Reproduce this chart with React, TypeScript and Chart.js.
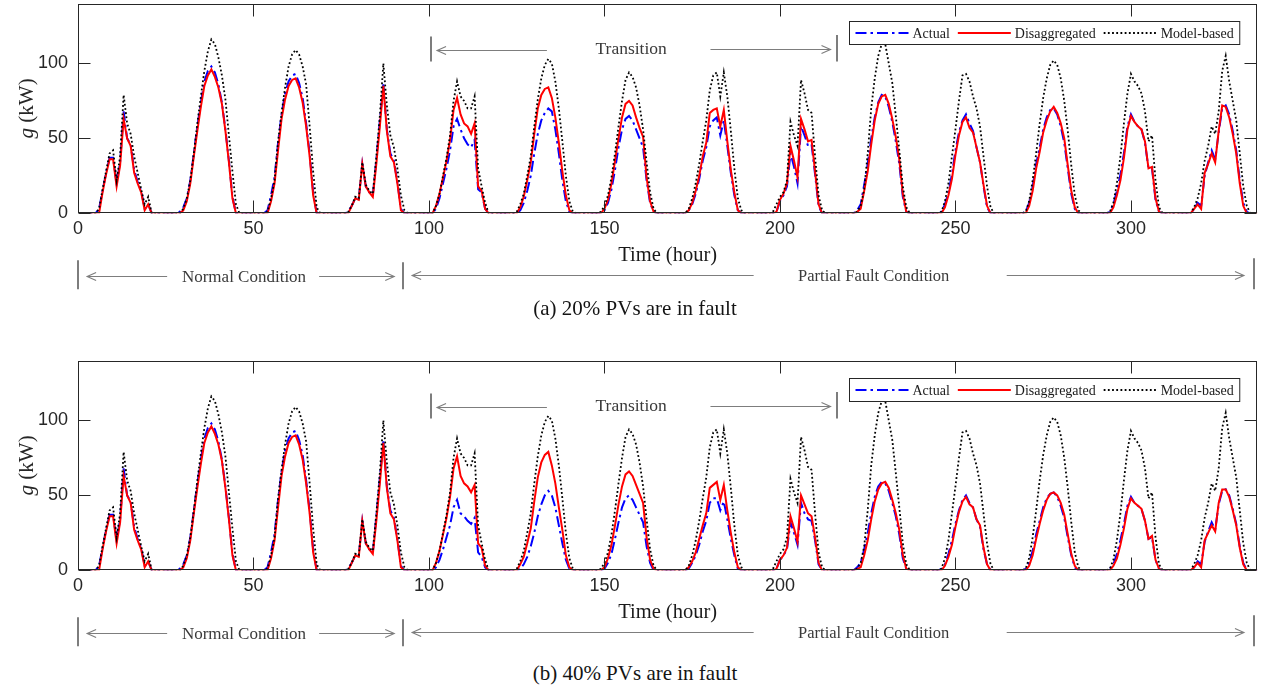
import React, { useEffect, useRef } from "react";
import { Chart, registerables } from "chart.js";

Chart.register(...registerables);

// ---------------- data ----------------
const hourTotal = 336;
const xTickValues = [0, 50, 100, 150, 200, 250, 300];
const yTickValues = [0, 50, 100];
// first hour of each day's sunlit window; each day's list starts at that hour
const dayWindowStart = [5, 28, 53, 76, 100, 124, 148, 172, 197, 220, 245, 269, 293, 316];

const modelBased: number[][] = [
  [0, 3, 16, 28, 40, 42, 22, 38, 79, 60, 53, 38, 27, 16, 6, 11, 0],
  [0, 0, 3, 10, 22, 40, 60, 78, 95, 108, 116, 113, 104, 92, 76, 52, 28, 6, 0],
  [0, 1, 10, 22, 48, 67, 84, 98, 106, 109, 106, 98, 86, 58, 28, 4, 0, 0],
  [0, 1, 5, 11, 10, 34, 19, 15, 13, 38, 65, 100, 72, 52, 44, 30, 12, 2, 0],
  [0, 0, 5, 13, 25, 37, 52, 75, 88, 78, 75, 70, 70, 78, 30, 18, 7, 0, 0],
  [0, 1, 6, 13, 25, 38, 58, 76, 90, 99, 103, 100, 88, 70, 48, 25, 8, 1, 0],
  [0, 1, 5, 12, 24, 40, 58, 75, 89, 94, 91, 84, 72, 56, 34, 14, 3, 0, 0],
  [0, 0, 3, 10, 20, 33, 48, 62, 82, 92, 94, 78, 94, 78, 55, 30, 10, 2, 0],
  [0, 1, 6, 11, 14, 22, 61, 52, 45, 89, 80, 69, 67, 38, 12, 2, 0, 0],
  [0, 0, 1, 5, 16, 40, 70, 90, 105, 113, 113, 100, 87, 65, 42, 18, 4, 0, 0],
  [0, 1, 8, 20, 38, 56, 75, 92, 93, 88, 78, 70, 58, 38, 18, 4, 0],
  [0, 1, 8, 22, 40, 60, 77, 90, 99, 102, 99, 90, 75, 55, 32, 12, 2, 0],
  [0, 1, 7, 20, 38, 60, 80, 93, 88, 85, 80, 68, 48, 52, 22, 4, 0, 0],
  [0, 0, 4, 10, 20, 35, 45, 58, 53, 68, 95, 105, 88, 75, 62, 40, 18, 5, 0, 0, 0],
];

const actual20: number[][] = [
  [0, 3, 15, 27, 37, 37, 20, 34, 68, 50, 46, 29, 21, 15, 3, 6, 0],
  [0, 1, 4, 10, 22, 40, 58, 74, 88, 95, 98, 94, 86, 74, 56, 35, 11, 0, 0],
  [0, 2, 12, 24, 47, 66, 80, 88, 92, 93, 87, 77, 60, 40, 14, 0, 0, 0],
  [0, 1, 5, 10, 10, 33, 18, 14, 12, 36, 62, 86, 56, 40, 35, 21, 3, 0, 0],
  [0, 0, 3, 10, 20, 30, 42, 58, 63, 56, 50, 46, 44, 49, 16, 14, 3, 0, 0],
  [0, 0, 2, 7, 15, 25, 40, 53, 62, 67, 70, 68, 56, 40, 22, 8, 1, 0, 0],
  [0, 0, 2, 7, 16, 29, 44, 56, 63, 65, 62, 56, 50, 44, 22, 7, 1, 0, 0],
  [0, 0, 2, 6, 13, 23, 35, 44, 58, 62, 64, 52, 62, 45, 27, 12, 2, 0, 0],
  [0, 0, 1, 8, 12, 18, 40, 31, 20, 58, 52, 45, 46, 26, 5, 0, 0, 0],
  [0, 0, 2, 6, 19, 33, 50, 64, 74, 79, 78, 71, 61, 48, 33, 11, 1, 0, 0],
  [0, 1, 6, 14, 26, 42, 54, 62, 66, 60, 55, 44, 34, 18, 4, 0, 0],
  [0, 1, 7, 18, 33, 44, 56, 64, 69, 70, 66, 58, 47, 30, 13, 3, 0, 0],
  [0, 1, 6, 15, 26, 40, 58, 66, 61, 58, 56, 47, 30, 30, 9, 1, 0, 0],
  [0, 0, 3, 7, 5, 25, 34, 42, 36, 54, 70, 72, 66, 55, 42, 22, 7, 1, 0, 0, 0],
];

const disaggregated20: number[][] = [
  [0, 0, 14, 26, 36, 36, 18, 32, 63, 50, 45, 27, 20, 14, 2, 6, 0],
  [0, 0, 2, 8, 20, 38, 55, 71, 85, 92, 96, 91, 84, 73, 55, 34, 10, 0, 0],
  [0, 0, 8, 20, 42, 63, 76, 85, 89, 90, 84, 74, 58, 38, 12, 0, 0, 0],
  [0, 0, 5, 10, 9, 33, 18, 14, 11, 33, 58, 85, 55, 38, 34, 20, 2, 0, 0],
  [0, 0, 5, 13, 24, 35, 49, 69, 77, 66, 60, 58, 53, 60, 18, 15, 3, 0, 0],
  [0, 0, 4, 11, 22, 34, 53, 70, 79, 83, 84, 77, 64, 47, 28, 12, 2, 0, 0],
  [0, 0, 3, 9, 20, 35, 50, 64, 73, 75, 72, 64, 57, 51, 24, 8, 1, 0, 0],
  [0, 0, 2, 7, 15, 25, 38, 47, 67, 69, 70, 58, 69, 48, 29, 14, 2, 0, 0],
  [0, 0, 1, 9, 13, 20, 45, 35, 24, 63, 56, 48, 49, 28, 6, 0, 0, 0],
  [0, 0, 1, 3, 15, 28, 46, 62, 73, 78, 79, 73, 63, 51, 36, 13, 1, 0, 0],
  [0, 0, 4, 12, 23, 39, 52, 61, 64, 57, 54, 44, 34, 19, 5, 0, 0],
  [0, 0, 5, 15, 30, 41, 54, 62, 68, 71, 67, 60, 50, 32, 15, 4, 0, 0],
  [0, 0, 4, 12, 22, 37, 56, 65, 61, 58, 56, 48, 30, 31, 10, 1, 0, 0],
  [0, 0, 3, 6, 3, 27, 33, 40, 34, 55, 72, 71, 64, 53, 40, 20, 5, 0, 0, 0, 0],
];

const actual40: number[][] = [
  [0, 3, 15, 27, 37, 37, 20, 34, 68, 50, 46, 29, 21, 15, 3, 6, 0],
  [0, 1, 4, 10, 22, 40, 58, 74, 88, 95, 98, 94, 86, 74, 56, 35, 11, 0, 0],
  [0, 2, 12, 24, 47, 66, 80, 88, 92, 93, 87, 77, 60, 40, 14, 0, 0, 0],
  [0, 1, 5, 10, 10, 33, 18, 14, 12, 36, 62, 86, 56, 40, 35, 21, 3, 0, 0],
  [0, 0, 2, 7, 14, 22, 30, 42, 47, 38, 36, 33, 31, 35, 12, 9, 2, 0, 0],
  [0, 0, 1, 4, 9, 16, 25, 36, 44, 50, 53, 50, 42, 30, 18, 7, 1, 0, 0],
  [0, 0, 1, 5, 11, 21, 32, 42, 48, 50, 47, 42, 37, 32, 16, 5, 0, 0, 0],
  [0, 0, 1, 5, 10, 17, 26, 33, 45, 48, 48, 40, 46, 34, 21, 10, 1, 0, 0],
  [0, 0, 1, 7, 10, 14, 32, 25, 17, 45, 38, 34, 33, 20, 4, 0, 0, 0],
  [0, 0, 2, 5, 14, 25, 38, 49, 56, 59, 58, 53, 45, 36, 24, 8, 1, 0, 0],
  [0, 1, 4, 11, 20, 31, 40, 47, 50, 45, 42, 34, 29, 14, 4, 0, 0],
  [0, 1, 5, 13, 24, 33, 42, 48, 51, 52, 49, 43, 35, 22, 10, 2, 0, 0],
  [0, 1, 4, 11, 20, 31, 43, 49, 45, 43, 41, 33, 21, 22, 7, 1, 0, 0],
  [0, 0, 2, 6, 4, 19, 26, 32, 27, 44, 53, 54, 50, 41, 31, 16, 5, 0, 0, 0, 0],
];

const disaggregated40: number[][] = [
  [0, 0, 14, 26, 36, 36, 18, 32, 63, 50, 45, 27, 20, 14, 2, 6, 0],
  [0, 0, 2, 8, 20, 38, 55, 71, 85, 92, 96, 91, 84, 73, 55, 34, 10, 0, 0],
  [0, 0, 8, 20, 42, 63, 76, 85, 89, 90, 84, 74, 58, 38, 12, 0, 0, 0],
  [0, 0, 5, 10, 9, 33, 18, 14, 11, 33, 58, 85, 55, 38, 34, 20, 2, 0, 0],
  [0, 0, 5, 13, 24, 35, 49, 68, 76, 63, 58, 56, 52, 57, 18, 15, 3, 0, 0],
  [0, 0, 4, 9, 18, 28, 46, 62, 72, 77, 79, 70, 58, 42, 27, 10, 2, 0, 0],
  [0, 0, 2, 8, 17, 30, 44, 56, 64, 66, 63, 57, 51, 45, 22, 7, 1, 0, 0],
  [0, 0, 2, 6, 12, 21, 30, 38, 55, 57, 59, 47, 57, 40, 25, 12, 2, 0, 0],
  [0, 0, 1, 7, 10, 15, 36, 28, 19, 50, 44, 38, 36, 22, 5, 0, 0, 0],
  [0, 0, 1, 2, 10, 20, 34, 46, 54, 58, 59, 55, 47, 38, 27, 10, 1, 0, 0],
  [0, 0, 3, 9, 17, 29, 39, 46, 49, 44, 42, 34, 30, 15, 4, 0, 0],
  [0, 0, 3, 10, 21, 31, 40, 47, 51, 52, 50, 45, 37, 24, 11, 3, 0, 0],
  [0, 0, 3, 8, 17, 28, 41, 48, 45, 43, 41, 33, 21, 23, 7, 1, 0, 0],
  [0, 0, 2, 5, 2, 20, 25, 30, 26, 45, 54, 54, 49, 40, 30, 15, 4, 0, 0, 0, 0],
];

const seriesLabels = ["Actual", "Disaggregated", "Model-based"];
const captions = ["(a) 20% PVs are in fault", "(b) 40% PVs are in fault"];
const xTitle = "Time (hour)";
const conditionLabels = { transition: "Transition", normal: "Normal Condition", partial: "Partial Fault Condition" };

// annotation anchors, in hours
const transitionMarks = { start: 100.6, end: 216.3, leftHead: 102.3, leftTail: 133.6, text: 157.6, rightTail: 180.2, rightHead: 214.4 };
const conditionMarks = {
  normalStart: 0, normalEnd: 92.7, nLeftHead: 2.6, nLeftTail: 25.4, nText: 47.3, nRightTail: 68.7, nRightHead: 90.1,
  pLeftHead: 95.2, pLeftTail: 192.5, pText: 226.7, pRightTail: 264.6, pRightHead: 332.2, faultEnd: 335.2,
};

// ---------------- styles ----------------
const SERIF = '"Liberation Serif", "Times New Roman", serif';
const SANS = '"Liberation Sans", Arial, Helvetica, sans-serif';
const AXIS = "#262626";
const NOTE = "#7d7d7d";
const NOTE_TEXT = "#3a3a3a";

function toPoints(days: number[][]) {
  const pts: { x: number; y: number }[] = [];
  for (let h = 1; h <= hourTotal; h++) {
    let y = 0;
    days.forEach((vals, d) => {
      const i = h - dayWindowStart[d];
      if (i >= 0 && i < vals.length) y = vals[i];
    });
    pts.push({ x: h, y });
  }
  return pts;
}

function arrow(ctx: CanvasRenderingContext2D, tail: number, head: number, y: number) {
  const dir = Math.sign(head - tail);
  ctx.beginPath();
  ctx.moveTo(tail, y);
  ctx.lineTo(head, y);
  ctx.moveTo(head - dir * 9, y - 4);
  ctx.lineTo(head, y);
  ctx.lineTo(head - dir * 9, y + 4);
  ctx.stroke();
}

function bar(ctx: CanvasRenderingContext2D, x: number, y1: number, y2: number) {
  ctx.beginPath();
  ctx.moveTo(x, y1);
  ctx.lineTo(x, y2);
  ctx.stroke();
}

const decorPlugin = {
  id: "matlabDecor",
  afterDraw(chart: any) {
    const ctx: CanvasRenderingContext2D = chart.ctx;
    const ca = chart.chartArea;
    const xs = chart.scales.x;
    const ys = chart.scales.y;
    const L = Math.round(ca.left) + 0.5;
    const R = Math.round(ca.right) - 0.5;
    const T = Math.round(ca.top) + 0.5;
    const B = Math.round(ca.bottom) - 0.5;
    ctx.save();
    // frame + inward ticks
    ctx.strokeStyle = AXIS;
    ctx.lineWidth = 1;
    ctx.setLineDash([]);
    ctx.strokeRect(L, T, R - L, B - T);
    ctx.beginPath();
    xTickValues.forEach((v) => {
      const px = Math.round(xs.getPixelForValue(v)) + 0.5;
      ctx.moveTo(px, B); ctx.lineTo(px, B - 12);
      ctx.moveTo(px, T); ctx.lineTo(px, T + 12);
    });
    yTickValues.forEach((v) => {
      const py = Math.round(ys.getPixelForValue(v)) + 0.5;
      ctx.moveTo(L, py); ctx.lineTo(L + 12, py);
      ctx.moveTo(R, py); ctx.lineTo(R - 12, py);
    });
    ctx.stroke();

    // y title: italic g + (kW)
    ctx.fillStyle = AXIS;
    ctx.save();
    ctx.translate(27, (ca.top + ca.bottom) / 2);
    ctx.rotate(-Math.PI / 2);
    ctx.textBaseline = "middle";
    ctx.textAlign = "left";
    ctx.font = `italic 21px ${SERIF}`;
    const gW = ctx.measureText("g").width;
    ctx.font = `21px ${SERIF}`;
    const restW = ctx.measureText(" (kW)").width;
    const start = -(gW + restW) / 2;
    ctx.font = `italic 21px ${SERIF}`;
    ctx.fillText("g", start, 0);
    ctx.font = `21px ${SERIF}`;
    ctx.fillText(" (kW)", start + gW, 0);
    ctx.restore();

    // x title
    ctx.font = `20.5px ${SERIF}`;
    ctx.textAlign = "center";
    ctx.textBaseline = "middle";
    ctx.fillStyle = "#1a1a1a";
    ctx.fillText(xTitle, (ca.left + ca.right) / 2, ca.bottom + 42);

    // legend
    const ds = chart.data.datasets;
    ctx.font = `14px ${SERIF}`;
    const lineLen = 53;
    const widths = seriesLabels.map((l) => ctx.measureText(l).width);
    const total = 6 + widths.reduce((a, w) => a + lineLen + 4 + w, 0) + 8 * (seriesLabels.length - 1) + 6;
    const lx = Math.round(ca.right - 18 - total) + 0.5;
    const ly = Math.round(ca.top + 17) + 0.5;
    const lh = 23;
    ctx.fillStyle = "#ffffff";
    ctx.fillRect(lx, ly, total, lh);
    ctx.strokeStyle = AXIS;
    ctx.lineWidth = 1;
    ctx.strokeRect(lx, ly, total, lh);
    let cx = lx + 6;
    const cy = ly + lh / 2;
    seriesLabels.forEach((label, i) => {
      const d = ds.find((s: any) => s.label === label);
      ctx.save();
      ctx.strokeStyle = d.borderColor;
      ctx.lineWidth = d.borderWidth;
      ctx.setLineDash(d.borderDash || []);
      ctx.beginPath();
      ctx.moveTo(cx, cy);
      ctx.lineTo(cx + lineLen, cy);
      ctx.stroke();
      ctx.restore();
      cx += lineLen + 4;
      ctx.fillStyle = "#1a1a1a";
      ctx.textAlign = "left";
      ctx.textBaseline = "middle";
      ctx.fillText(label, cx, cy + 1);
      cx += widths[i] + 8;
    });

    // Transition annotation
    const px = (h: number) => xs.getPixelForValue(h);
    ctx.strokeStyle = NOTE;
    ctx.lineWidth = 2;
    bar(ctx, Math.round(px(transitionMarks.start)), ca.top + 33, ca.top + 58);
    bar(ctx, Math.round(px(transitionMarks.end)), ca.top + 31.5, ca.top + 58);
    ctx.lineWidth = 1.1;
    arrow(ctx, px(transitionMarks.leftTail), px(transitionMarks.leftHead), Math.round(ca.top + 46) + 0.5);
    arrow(ctx, px(transitionMarks.rightTail), px(transitionMarks.rightHead), Math.round(ca.top + 45) + 0.5);
    ctx.fillStyle = NOTE_TEXT;
    ctx.font = `17.5px ${SERIF}`;
    ctx.textAlign = "center";
    ctx.textBaseline = "middle";
    ctx.fillText(conditionLabels.transition, px(transitionMarks.text), ca.top + 45.5);

    // Condition row below axis
    const rowY = ca.bottom + 63;
    ctx.lineWidth = 2;
    bar(ctx, Math.round(px(conditionMarks.normalStart)), rowY - 16, rowY + 13);
    bar(ctx, Math.round(px(conditionMarks.normalEnd)), rowY - 14, rowY + 13);
    bar(ctx, Math.round(px(conditionMarks.faultEnd)), rowY - 18, rowY + 13);
    ctx.lineWidth = 1.1;
    arrow(ctx, px(conditionMarks.nLeftTail), px(conditionMarks.nLeftHead), Math.round(rowY) + 0.5);
    arrow(ctx, px(conditionMarks.nRightTail), px(conditionMarks.nRightHead), Math.round(rowY) + 0.5);
    arrow(ctx, px(conditionMarks.pLeftTail), px(conditionMarks.pLeftHead), Math.round(rowY - 1.5) + 0.5);
    arrow(ctx, px(conditionMarks.pRightTail), px(conditionMarks.pRightHead), Math.round(rowY - 1.5) + 0.5);
    ctx.font = `17px ${SERIF}`;
    ctx.fillText(conditionLabels.normal, px(conditionMarks.nText), rowY + 1);
    ctx.font = `16.5px ${SERIF}`;
    ctx.fillText(conditionLabels.partial, px(conditionMarks.pText), rowY);
    ctx.restore();
  },
};

function makeConfig(actual: number[][], disagg: number[][]): any {
  return {
    type: "line",
    data: {
      datasets: [
        {
          label: "Model-based",
          data: toPoints(modelBased),
          borderColor: "#000000",
          borderWidth: 1.8,
          borderDash: [1.8, 2.4],
          borderCapStyle: "butt",
          pointRadius: 0,
          tension: 0,
          fill: false,
          order: 0,
        },
        {
          label: "Disaggregated",
          data: toPoints(disagg),
          borderColor: "#ff0000",
          borderWidth: 2,
          pointRadius: 0,
          tension: 0,
          fill: false,
          order: 1,
        },
        {
          label: "Actual",
          data: toPoints(actual),
          borderColor: "#0000ff",
          borderWidth: 2,
          borderDash: [11, 4, 2.5, 4],
          pointRadius: 0,
          tension: 0,
          fill: false,
          order: 2,
        },
      ],
    },
    options: {
      animation: false,
      responsive: false,
      devicePixelRatio: 1,
      events: [],
      layout: { padding: { top: 3.5, right: 8.7, left: 0, bottom: 0 } },
      plugins: { legend: { display: false }, tooltip: { enabled: false }, title: { display: false } },
      scales: {
        x: {
          type: "linear",
          min: 0,
          max: hourTotal,
          afterBuildTicks: (s: any) => {
            s.ticks = xTickValues.map((v) => ({ value: v }));
          },
          afterFit: (s: any) => {
            s.height = 300 - 213.3;
            s.paddingLeft = 0;
            s.paddingRight = 0;
          },
          grid: { display: false, drawTicks: false },
          border: { display: false },
          ticks: {
            autoSkip: false,
            maxRotation: 0,
            padding: 5,
            color: AXIS,
            font: { family: SANS, size: 18 },
            callback: (v: any) => String(v),
          },
        },
        y: {
          type: "linear",
          min: 0,
          max: 140,
          afterBuildTicks: (s: any) => {
            s.ticks = yTickValues.map((v) => ({ value: v }));
          },
          afterFit: (s: any) => {
            s.width = 78;
            s.paddingTop = 0;
            s.paddingBottom = 0;
          },
          grid: { display: false, drawTicks: false },
          border: { display: false },
          ticks: {
            padding: 10,
            color: AXIS,
            font: { family: SANS, size: 18 },
            callback: (v: any) => String(v),
          },
        },
      },
    },
    plugins: [decorPlugin],
  };
}

function Panel({ top, actual, disagg }: { top: number; actual: number[][]; disagg: number[][] }) {
  const ref = useRef<HTMLCanvasElement>(null);
  useEffect(() => {
    if (!ref.current) return;
    const chart = new Chart(ref.current, makeConfig(actual, disagg));
    return () => chart.destroy();
  }, [actual, disagg]);
  return (
    <canvas
      ref={ref}
      width={1266}
      height={300}
      style={{ position: "absolute", left: 0, top, width: 1266, height: 300 }}
    />
  );
}

const captionStyle: React.CSSProperties = {
  position: "absolute",
  left: 435,
  width: 400,
  textAlign: "center",
  fontFamily: SERIF,
  fontSize: 21,
  lineHeight: "24px",
  color: "#141414",
  whiteSpace: "nowrap",
};

export default function App() {
  return (
    <div style={{ position: "absolute", left: 0, top: 0, width: 1266, height: 689, background: "#ffffff", overflow: "hidden" }}>
      <Panel top={0} actual={actual20} disagg={disaggregated20} />
      <div style={{ ...captionStyle, top: 296 }}>{captions[0]}</div>
      <Panel top={356.5} actual={actual40} disagg={disaggregated40} />
      <div style={{ ...captionStyle, top: 661 }}>{captions[1]}</div>
    </div>
  );
}
